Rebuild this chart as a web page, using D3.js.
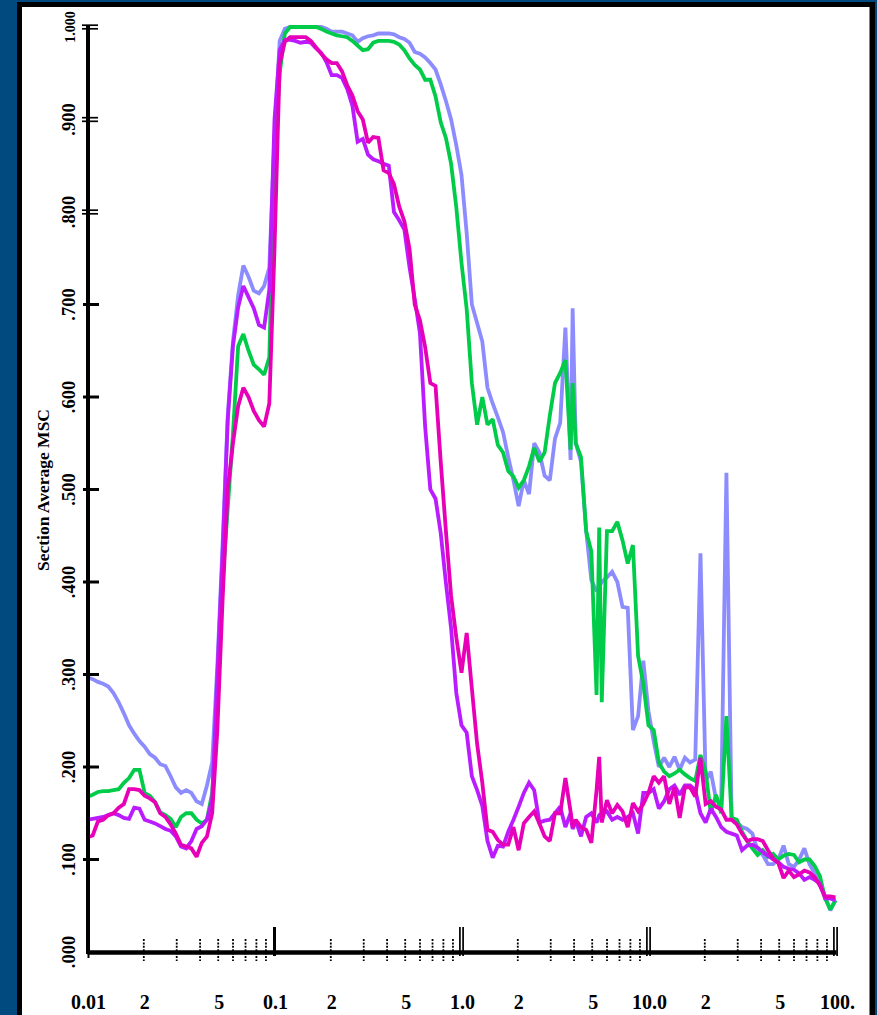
<!DOCTYPE html>
<html>
<head>
<meta charset="utf-8">
<script src="https://cdn.jsdelivr.net/npm/d3@7/dist/d3.min.js"></script>
<style>
  html, body { margin: 0; padding: 0; background: #004a80; }
  svg { display: block; }
</style>
</head>
<body>
<svg id="chart" width="877" height="1015"></svg>
<script>
// Frequency grid (shared by all series)
const freq = [
  0.01, 0.01066, 0.01136, 0.01212, 0.01292, 0.01377, 0.01468, 0.01565, 0.01668, 0.01778, 0.01896, 0.02021,
  0.02154, 0.02297, 0.02448, 0.02610, 0.02783, 0.02967, 0.03162, 0.03371, 0.03594, 0.03831, 0.04084, 0.04354,
  0.04642, 0.04948, 0.05275, 0.05623, 0.05995, 0.06391, 0.06813, 0.07263, 0.07743, 0.08254, 0.08799, 0.09380,
  0.1, 0.1066, 0.1136, 0.1212, 0.1292, 0.1377, 0.1468, 0.1565, 0.1668, 0.1778, 0.1896, 0.2021,
  0.2154, 0.2297, 0.2448, 0.2610, 0.2783, 0.2967, 0.3162, 0.3371, 0.3594, 0.3831, 0.4084, 0.4354,
  0.4642, 0.4948, 0.5275, 0.5623, 0.5995, 0.6391, 0.6813, 0.7263, 0.7743, 0.8254, 0.8799, 0.9380,
  1.0, 1.066, 1.136, 1.212, 1.292, 1.377, 1.468, 1.565, 1.668, 1.778, 1.896, 2.021,
  2.154, 2.297, 2.448, 2.610, 2.783, 2.967, 3.162, 3.371, 3.594, 3.831, 3.93, 4.084, 4.354,
  4.642, 4.948, 5.275, 5.45, 5.623, 5.995, 6.391, 6.813, 7.263, 7.743, 8.254, 8.799, 9.380,
  10.0, 10.66, 11.36, 12.12, 12.92, 13.77, 14.68, 15.65, 16.68, 17.78, 18.96, 20.21,
  21.54, 22.97, 24.48, 26.10, 27.83, 29.67, 31.62, 33.71, 35.94, 38.31, 40.84, 43.54,
  46.42, 49.48, 52.75, 56.23, 59.95, 63.91, 68.13, 72.63, 77.43, 82.54, 87.99, 93.80,
  100.0
];

const seriesBlue = [
  .297, .295, .292, .290, .287, .280, .270, .258, .245, .236, .228, .222,
  .214, .210, .203, .201, .190, .178, .172, .175, .172, .163, .160, .180,
  .205, .310, .440, .580, .660, .710, .742, .730, .715, .712, .720, .740,
  .880, .985, .998, 1.000, 1.000, 1.000, 1.000, 1.000, 1.000, 1.000, .998, .995,
  .995, .995, .993, .991, .984, .988, .990, .991, .993, .993, .993, .992,
  .989, .987, .983, .973, .971, .967, .961, .954, .938, .920, .900, .872,
  .840, .777, .700, .680, .660, .610, .593, .578, .562, .535, .510, .482,
  .510, .495, .550, .540, .515, .510, .555, .572, .675, .532, .696, .550, .530,
  .455, .402, .390, .395, .400, .405, .411, .400, .373, .372, .240, .255, .315,
  .260, .228, .200, .210, .200, .211, .197, .210, .205, .208, .431, .185,
  .195, .165, .160, .518, .145, .140, .135, .133, .128, .110, .105, .095,
  .095, .100, .115, .095, .092, .100, .112, .095, .085, .072, .060, .045,
  .056
];

const seriesGreen = [
  .168, .170, .173, .174, .174, .175, .176, .183, .188, .197, .197, .172,
  .169, .162, .151, .148, .144, .135, .146, .150, .150, .143, .139, .143,
  .172, .260, .400, .480, .560, .655, .668, .650, .635, .630, .624, .643,
  .860, .950, .993, 1.000, 1.000, 1.000, 1.000, 1.000, 1.000, .998, .995, .993,
  .991, .990, .989, .985, .980, .975, .976, .983, .985, .985, .985, .984,
  .981, .975, .966, .959, .954, .943, .943, .925, .897, .880, .852, .805,
  .745, .695, .615, .570, .600, .570, .576, .548, .540, .520, .514, .502,
  .510, .525, .545, .530, .540, .580, .615, .626, .640, .543, .615, .550, .535,
  .455, .433, .278, .459, .270, .455, .455, .465, .445, .420, .440, .320, .290,
  .245, .240, .205, .195, .190, .193, .197, .192, .188, .185, .213, .195,
  .150, .170, .150, .255, .145, .143, .130, .120, .112, .105, .110, .103,
  .106, .100, .104, .106, .105, .097, .100, .100, .093, .082, .058, .046,
  .056
];

const seriesPurple = [
  .143, .144, .145, .146, .148, .150, .148, .145, .144, .156, .155, .143,
  .141, .139, .136, .133, .131, .125, .114, .112, .120, .133, .136, .143,
  .165, .300, .430, .575, .655, .697, .720, .708, .696, .678, .675, .716,
  .900, .975, .986, .986, .985, .983, .984, .983, .977, .972, .962, .948,
  .948, .945, .933, .915, .876, .879, .862, .857, .855, .852, .850, .800,
  .791, .781, .740, .706, .669, .568, .500, .490, .453, .399, .350, .280,
  .245, .237, .190, .175, .158, .120, .102, .115, .114, .130, .143, .157,
  .172, .183, .175, .140, .142, .143, .150, .157, .135, .150, .133, .142, .125,
  .146, .150, .140, .148, .150, .152, .143, .146, .143, .146, .150, .128, .172,
  .172, .176, .155, .163, .176, .180, .170, .180, .180, .175, .150, .140,
  .155, .146, .135, .130, .128, .126, .110, .115, .116, .113, .108, .104,
  .100, .097, .092, .090, .089, .085, .078, .081, .078, .074, .058, .058,
  .056
];

const seriesMagenta = [
  .124, .126, .141, .143, .148, .150, .156, .160, .176, .176, .175, .169,
  .166, .162, .150, .146, .138, .128, .116, .114, .112, .103, .118, .125,
  .150, .240, .380, .500, .550, .590, .610, .600, .585, .575, .568, .593,
  .760, .960, .984, .989, .989, .989, .989, .985, .978, .971, .965, .961,
  .961, .952, .937, .926, .909, .900, .875, .881, .880, .845, .842, .830,
  .806, .790, .760, .700, .683, .654, .615, .612, .530, .455, .385, .340,
  .302, .345, .285, .225, .183, .132, .130, .121, .116, .116, .135, .110,
  .139, .146, .152, .139, .125, .120, .150, .150, .188, .152, .135, .143, .135,
  .132, .118, .175, .211, .140, .164, .150, .159, .152, .135, .161, .152, .160,
  .172, .190, .183, .190, .160, .178, .145, .178, .178, .168, .210, .160,
  .163, .157, .154, .143, .143, .138, .128, .120, .122, .122, .120, .110,
  .101, .096, .080, .088, .081, .084, .088, .086, .081, .072, .060, .060,
  .059
];

const seriesNames = ["blue", "green", "purple", "magenta"];
const seriesColors = ["#8c8cff", "#00cc4a", "#bb1cff", "#e800b8"];

const yTickValues = [0, 0.1, 0.2, 0.3, 0.4, 0.5, 0.6, 0.7, 0.8, 0.9, 1.0];
const yTickLabels = [".000", ".100", ".200", ".300", ".400", ".500", ".600", ".700", ".800", ".900", "1.000"];
const xLabelValues = [0.01, 0.02, 0.05, 0.1, 0.2, 0.5, 1, 2, 5, 10, 20, 50, 100];
const xLabelTexts = ["0.01", "2", "5", "0.1", "2", "5", "1.0", "2", "5", "10.0", "2", "5", "100."];
const xMajorValues = [0.1, 1, 10, 100];

const svg = d3.select("#chart");
const W = 877, H = 1015;
const FONT = "'Liberation Serif', 'Times New Roman', serif";

// Frame
svg.append("rect").attr("x", 0).attr("y", 0).attr("width", W).attr("height", H).attr("fill", "#004a80");
svg.append("rect").attr("x", 17).attr("y", 2).attr("width", 858).attr("height", H + 10).attr("fill", "#000");
svg.append("rect").attr("x", 22).attr("y", 7).attr("width", 847.5).attr("height", H + 10).attr("fill", "#fff");

const x = d3.scaleLog().domain([0.01, 100]).range([87.5, 835.5]);
const y = d3.scaleLinear().domain([0, 1]).range([952, 27]);

// Series lines
const allSeries = [seriesBlue, seriesGreen, seriesPurple, seriesMagenta];
const line = d3.line().x(d => x(d[0])).y(d => y(d[1]));
allSeries.forEach((vals, i) => {
  const n = Math.min(freq.length, vals.length);
  const pts = d3.range(n).map(j => [freq[j], vals[j]]);
  svg.append("path")
    .datum(pts)
    .attr("d", line)
    .attr("fill", "none")
    .attr("stroke", seriesColors[i])
    .attr("stroke-width", 3.8)
    .attr("stroke-linejoin", "miter")
    .attr("stroke-miterlimit", 2)
    .attr("class", "series-" + seriesNames[i]);
});

// Y axis
const gy = svg.append("g");
gy.append("line").attr("x1", 88).attr("x2", 88).attr("y1", y(1) - 2).attr("y2", y(0) + 2)
  .attr("stroke", "#000").attr("stroke-width", 4);
yTickValues.forEach((v, i) => {
  const yy = y(v);
  if (v >= 0.8) {
    [-1.8, 1.8].forEach(o => {
      gy.append("line").attr("x1", 82).attr("x2", 98).attr("y1", yy + o).attr("y2", yy + o)
        .attr("stroke", "#000").attr("stroke-width", 1.7);
    });
  } else if (v > 0) {
    gy.append("line").attr("x1", 83).attr("x2", 99).attr("y1", yy).attr("y2", yy)
      .attr("stroke", "#000").attr("stroke-width", 3);
  }
  gy.append("text")
    .attr("transform", `translate(75,${yy}) rotate(-90)`)
    .attr("text-anchor", "middle")
    .attr("font-family", FONT).attr("font-weight", "bold")
    .attr("font-size", v === 1 ? 14 : 18.5)
    .attr("fill", "#000")
    .text(yTickLabels[i]);
});
gy.append("text")
  .attr("transform", `translate(49,490) rotate(-90)`)
  .attr("text-anchor", "middle")
  .attr("font-family", FONT).attr("font-weight", "bold")
  .attr("font-size", 17.5)
  .attr("fill", "#000")
  .text("Section Average MSC");

// X axis
const gx = svg.append("g");
gx.append("line").attr("x1", x(0.01)).attr("x2", x(100) + 1).attr("y1", 952.5).attr("y2", 952.5)
  .attr("stroke", "#000").attr("stroke-width", 4.5);
gx.append("line").attr("x1", x(0.01) + 1).attr("x2", x(0.01) + 1).attr("y1", 950).attr("y2", 958)
  .attr("stroke", "#000").attr("stroke-width", 2);

// minor ticks from the scale's own tick generator
x.ticks().forEach(t => {
  const m = Math.round(t / Math.pow(10, Math.floor(Math.log10(t) + 1e-9)));
  if (m === 1) return;
  gx.append("line").attr("x1", x(t)).attr("x2", x(t)).attr("y1", 939).attr("y2", 961)
    .attr("stroke", "#000").attr("stroke-width", 1.8).attr("stroke-dasharray", "2,1.4");
});
xMajorValues.forEach(t => {
  const xx = x(t);
  if (t === 0.1) {
    gx.append("line").attr("x1", xx).attr("x2", xx).attr("y1", 927).attr("y2", 956)
      .attr("stroke", "#000").attr("stroke-width", 3);
  } else {
    [-1.6, 1.6].forEach(o => {
      gx.append("line").attr("x1", xx + o).attr("x2", xx + o).attr("y1", 927).attr("y2", 956)
        .attr("stroke", "#000").attr("stroke-width", 1.7);
    });
  }
});
xLabelValues.forEach((v, i) => {
  gx.append("text")
    .attr("x", x(v) + (v === 100 ? 2 : 1))
    .attr("y", 1009)
    .attr("text-anchor", "middle")
    .attr("font-family", FONT).attr("font-weight", "bold")
    .attr("font-size", 20)
    .attr("fill", "#000")
    .text(xLabelTexts[i]);
});
</script>
</body>
</html>
